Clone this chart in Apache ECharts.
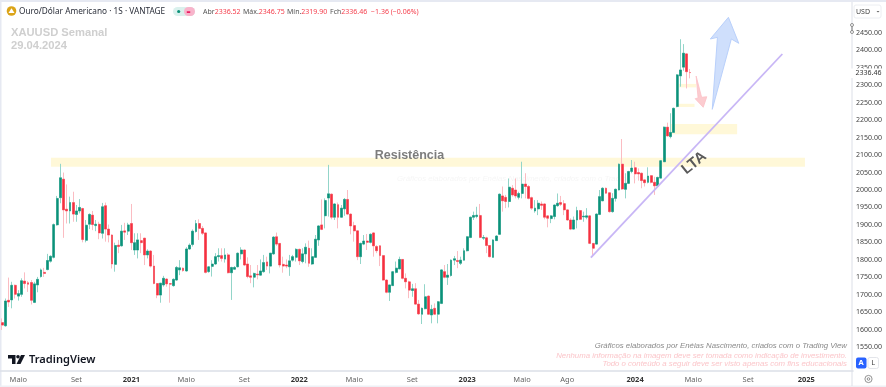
<!DOCTYPE html>
<html><head><meta charset="utf-8">
<style>html,body{margin:0;padding:0;background:#fff}#c{width:886px;height:387px}</style>
<script src="https://cdn.jsdelivr.net/npm/echarts@6/dist/echarts.min.js"></script>
</head><body><div id="c"></div>
<script>
const opens=[
1620,1611,1684,1685,1727,1696,1701,1739,1734,1735,1678,1728,1752,1764,1772,1796,1807,1900,1978,2031,1945,1940,1964,1930,1940,1947,1856,1902,1928,1898,1902,1876,1955,1888,1871,
1787,1842,1840,1883,1882,1904,1828,1828,1855,1862,1814,1825,1782,1732,1699,1728,1745,1732,1726,1742,1771,1776,1768,1831,1844,1881,1904,1890,1877,1766,1781,1788,1809,1812,1802,1814,
1763,1773,1780,1817,1828,1788,1754,1750,1759,1756,1766,1794,1782,1817,1866,1847,1787,1785,1780,1799,1807,1830,1795,1817,1833,1788,1807,1857,1900,1926,1977,1988,1922,1958,1922,
1946,1973,1931,1898,1883,1809,1845,1854,1850,1877,1838,1840,1812,1742,1707,1726,1764,1774,1801,1747,1737,1712,1717,1673,1644,1660,1696,1642,1661,1644,1675,1766,1750,1755,1799,1798,
1790,1799,1826,1864,1922,1924,1927,1862,1863,1841,1807,1855,1873,1983,1979,1967,2005,2000,1979,1990,2017,2010,1978,1940,1946,1960,1960,1926,1918,1924,1955,1964,1961,1943,1914,1888,
1914,1941,1923,1922,1926,1847,1845,1930,1969,2005,1992,1938,1976,2000,2074,2002,2019,2053,2064,2050,2048,2029,2022,2041,2022,2012,2034,2081,2180,2153,2165,2239,2327,2352,2390,2336.52];
const closes=[
1613,1682,1679,1727,1701,1703,1740,1732,1730,1684,1731,1744,1771,1761,1798,1810,1901,1976,2035,1943,1940,1964,1931,1940,1950,1858,1899,1930,1901,1902,1877,1952,1888,1871,1788,
1841,1838,1882,1879,1900,1849,1849,1857,1849,1814,1825,1782,1732,1699,1733,1747,1731,1730,1744,1778,1777,1769,1831,1842,1882,1904,1890,1876,1764,1780,1788,1809,1812,1804,1814,1763,
1778,1778,1819,1828,1785,1752,1750,1761,1757,1768,1792,1782,1819,1865,1845,1785,1782,1782,1797,1809,1830,1797,1817,1836,1790,1809,1859,1897,1887,1970,1989,1922,1960,1922,1948,
1973,1931,1897,1883,1809,1847,1854,1850,1873,1840,1826,1812,1742,1707,1728,1766,1776,1801,1747,1737,1713,1717,1673,1645,1661,1694,1644,1658,1644,1680,1771,1750,1756,1799,1803,1795,
1799,1826,1866,1922,1927,1928,1864,1864,1841,1809,1857,1868,1988,1969,1967,2008,1986,1983,1990,2017,2010,1976,1948,1948,1962,1956,1922,1919,1926,1957,1962,1959,1943,1914,1888,1914,
1941,1916,1925,1926,1847,1833,1931,1981,2005,1991,1938,1976,2002,2074,2003,2019,2053,2063,2046,2046,2027,2021,2040,2022,2012,2036,2084,2180,2155,2165,2234,2330,2344,2392,2339,2336.46];
const lows=[
1599,1608,1665,1661,1689,1683,1694,1718,1708,1672,1676,1707,1749,1751,1770,1792,1804,1898,1962,1863,1904,1904,1909,1909,1933,1850,1850,1888,1885,1882,1859,1861,1852,1850,1775,
1766,1819,1838,1857,1871,1828,1814,1804,1819,1785,1804,1778,1730,1690,1677,1723,1723,1677,1723,1740,1756,1766,1766,1828,1838,1878,1857,1871,1761,1763,1752,1785,1795,1795,1792,1761,
1685,1771,1778,1801,1782,1747,1733,1721,1744,1754,1763,1771,1761,1814,1840,1778,1763,1776,1754,1795,1795,1785,1790,1790,1780,1785,1807,1840,1885,1890,1924,1916,1914,1890,1920,
1926,1928,1873,1852,1799,1788,1842,1828,1847,1809,1819,1782,1740,1704,1682,1725,1761,1773,1744,1718,1690,1694,1671,1642,1616,1658,1642,1618,1642,1618,1673,1747,1728,1752,1785,1776,
1785,1798,1824,1862,1914,1919,1862,1857,1819,1807,1806,1854,1871,1938,1948,1950,1981,1976,1973,1976,1976,1973,1943,1935,1928,1943,1916,1893,1905,1916,1952,1954,1928,1912,1885,1887,
1890,1914,1909,1916,1845,1809,1844,1928,1968,1989,1935,1935,1967,1999,2000,1976,2017,2048,2019,2027,2005,2010,2019,2019,1986,2010,2033,2080,2153,2148,2164,2237,2296,2342,2291,2319.9];
const highs=[
1632,1689,1749,1737,1729,1713,1747,1764,1739,1742,1737,1751,1775,1777,1817,1813,1904,1983,2075,2050,2016,1981,1995,1957,1974,1949,1914,1933,1940,1914,1909,1963,1964,1901,1873,
1849,1857,1900,1906,1906,1960,1876,1876,1876,1863,1830,1828,1814,1733,1733,1754,1747,1733,1747,1782,1799,1778,1836,1847,1887,1914,1916,1897,1878,1782,1799,1819,1833,1833,1833,1819,
1780,1782,1821,1836,1830,1807,1785,1763,1785,1801,1814,1809,1819,1868,1878,1847,1809,1801,1814,1814,1833,1832,1833,1847,1855,1833,1871,1899,1973,1976,2072,1990,1962,1964,1957,
1977,2000,1933,1909,1885,1849,1871,1874,1876,1879,1842,1842,1814,1744,1728,1768,1795,1809,1802,1761,1740,1731,1733,1685,1663,1730,1698,1671,1675,1682,1773,1785,1788,1801,1811,1825,
1809,1833,1868,1924,1938,1952,1960,1871,1866,1842,1859,1871,1990,2010,1986,2033,2014,2033,1995,2081,2048,2014,1981,1971,1971,1967,1962,1928,1928,1959,1990,1983,1971,1945,1919,1924,
1952,1943,1938,1948,1928,1847,1933,2000,2008,2007,1993,1991,2004,2076,2146,2048,2055,2086,2081,2062,2050,2031,2065,2043,2038,2038,2086,2182,2193,2220,2236,2332,2432,2418,2392,2346.75];

const tickWeeks=['2020-05-04','2020-09-07','2021-01-04','2021-05-03','2021-09-06','2022-01-03','2022-05-02','2022-09-05','2023-01-02','2023-05-01','2023-08-07','2024-01-01','2024-05-06','2024-09-02','2025-01-06'];
const tickTexts=['Maio','Set','2021','Maio','Set','2022','Maio','Set','2023','Maio','Ago','2024','Maio','Set','2025'];

// Weekly categories from the first candle to the empty space at the right of the chart
const weeks=[];
for(let i=0;i<264;i++){weeks.push(new Date(Date.UTC(2020,2,30)+i*7*864e5).toISOString().slice(0,10));}

// Annotations in chart coordinates: [week index, price]
const zones=[
  [15.1,248.6,2092.5,2066.8],
  [206.8,227.6,2189,2160],
  [209.6,214.9,2304,2294],
  [209,214.4,2247,2238]];
const trendLine=[[182.3,1806],[241.6,2389.7]];
const blueArrow=[[224.9,2494.8],[228.1,2420.3],[225.8,2432.7],[219.9,2231.2],[221.5,2437.5],[219.3,2432.7]];
const redArrow=[[214.9,2326.6],[216.6,2265.6],[218.2,2267.3],[217.1,2237],[214.6,2261.6],[215.5,2263.6]];

const UP='#0b9179',DOWN='#f5303f',UPW='#93d5c9',DOWNW='#fbbcc2';
const FONT='"Noto Sans",sans-serif';
const CREDIT='italic 7.8px "Liberation Sans",sans-serif';
const wickData=opens.map((o,i)=>[o,closes[i],lows[i],highs[i]]);
const bodyData=opens.map((o,i)=>[o,closes[i],Math.min(o,closes[i]),Math.max(o,closes[i])]);

function poly(points,api,style){
  return {type:'polygon',shape:{points:points.map(p=>api.coord(p))},style};
}
function ohlc(x,text){
  return {type:'text',z:10,style:{x,y:11.5,verticalAlign:'middle',text,
    rich:{g:{font:'7px '+FONT,fill:'#555'},r:{font:'7px '+FONT,fill:'#f5404e'}}}};
}
const chart=echarts.init(document.getElementById('c'),null,{renderer:'canvas'});
chart.setOption({
  animation:false,
  backgroundColor:'#fff',
  grid:{left:0.6,width:852.46,top:15.5,height:349},
  xAxis:[{
    type:'category',data:weeks,boundaryGap:true,offset:6.5,
    axisLine:{show:true,lineStyle:{color:'#dcdfe7',width:1.5}},axisTick:{show:false},
    axisLabel:{
      interval:(i,v)=>tickWeeks.includes(v),margin:5,hideOverlap:false,
      formatter:v=>{const k=tickWeeks.indexOf(v);if(k<0)return '';const t=tickTexts[k];return /^\d/.test(t)?'{y|'+t+'}':'{m|'+t+'}';},
      rich:{y:{fontFamily:FONT,fontSize:7.5,fontWeight:'bold',color:'#333'},m:{fontFamily:FONT,fontSize:7.5,color:'#666'}}
    },
    splitLine:{show:false}
  },{type:'value',show:false,min:-0.5,max:263.5,splitLine:{show:false}}],
  yAxis:{
    type:'value',position:'right',min:1500,max:2500,interval:50,
    axisLine:{show:false},axisTick:{show:false},splitLine:{show:false},
    axisLabel:{margin:3,fontFamily:FONT,fontSize:7,color:'#444',
      formatter:v=>(v<=1500||v>=2500)?'':v.toFixed(2)}
  },
  series:[
    {type:'custom',xAxisIndex:1,z:1,silent:true,clip:false,data:zones,
      encode:{x:[0,1],y:[2,3]},
      renderItem:(p,api)=>{
        const a=api.coord([api.value(0),api.value(2)]),b=api.coord([api.value(1),api.value(3)]);
        return {type:'rect',shape:{x:a[0],y:a[1],width:b[0]-a[0],height:b[1]-a[1]},style:{fill:'#fff8d8'}};
      }},
    {type:'candlestick',name:'XAUUSD',z:2,barWidth:2.2,data:wickData,
      itemStyle:{color:UPW,color0:DOWNW,borderColor:UPW,borderColor0:DOWNW,borderWidth:1}},
    {type:'candlestick',name:'Corpo',z:3,barWidth:2.4,data:bodyData,
      itemStyle:{color:UP,color0:DOWN,borderColor:UP,borderColor0:DOWN,borderWidth:0.4}},
    {type:'custom',xAxisIndex:1,z:4,silent:true,clip:false,data:[0],
      renderItem:(p,api)=>({type:'group',children:[
        {type:'line',shape:{x1:api.coord(trendLine[0])[0],y1:api.coord(trendLine[0])[1],x2:api.coord(trendLine[1])[0],y2:api.coord(trendLine[1])[1]},style:{stroke:'#c8b6f6',lineWidth:1.8}},
        poly(blueArrow,api,{fill:'#cfdffc',stroke:'#b9d0fb',lineWidth:1}),
        poly(redArrow,api,{fill:'#fcccd0',stroke:'#fbc0c6',lineWidth:0.8})
      ]})}
  ],
  graphic:{elements:[
    {type:'rect',z:0,shape:{x:0,y:0,width:886,height:2},style:{fill:'#e6e9f2'}},
    {type:'rect',z:0,shape:{x:0,y:0,width:1.5,height:387},style:{fill:'#e6e9f2'}},
    {type:'rect',z:0,shape:{x:0,y:385.5,width:886,height:1.5},style:{fill:'#eef0f5'}},
    {type:'line',z:5,shape:{x1:852,y1:2,x2:852,y2:386},style:{stroke:'#dcdfe7',lineWidth:1}},
    // legend
    {type:'circle',z:10,shape:{cx:11.5,cy:11,r:4.8},style:{fill:'#dba418'}},
    {type:'polygon',z:11,shape:{points:[[8.5,13],[11.5,8.3],[14.5,13]]},style:{fill:'#fff'}},
    {type:'text',z:10,style:{x:19,y:11.5,text:'Ouro/Dólar Americano · 1S · VANTAGE',font:'8.25px '+FONT,fill:'#2a2e39',verticalAlign:'middle'}},
    {type:'rect',z:10,shape:{x:173,y:7,width:22,height:9,r:4.5},style:{fill:'#daf1ed'}},
    {type:'rect',z:11,shape:{x:184,y:7,width:11,height:9,r:4.5},style:{fill:'#f8b4cb'}},
    {type:'circle',z:12,shape:{cx:178.7,cy:11.5,r:1.6},style:{fill:'#0b9179'}},
    {type:'text',z:12,style:{x:188.5,y:11.5,text:'=',font:'bold 7px '+FONT,fill:'#e91e63',align:'center',verticalAlign:'middle'}},
    ohlc(203,'{g|Abr}{r|2336.52}'),
    ohlc(243,'{g|Máx.}{r|2346.75}'),
    ohlc(287,'{g|Mín.}{r|2319.90}'),
    ohlc(330,'{g|Fch}{r|2336.46}'),
    ohlc(371,'{r|−1.36 (−0.06%)}'),
    {type:'text',z:1,style:{x:11,y:32.5,text:'XAUUSD Semanal',font:'bold 11.2px "Liberation Sans",sans-serif',fill:'#cfcfcf',verticalAlign:'middle'}},
    {type:'text',z:1,style:{x:11,y:45.5,text:'29.04.2024',font:'bold 11.2px "Liberation Sans",sans-serif',fill:'#cfcfcf',verticalAlign:'middle'}},
    // drawing labels
    {type:'text',z:6,style:{x:409.5,y:156,text:'Resistência',font:'bold 12.5px "Liberation Sans",sans-serif',fill:'#7d7d7d',align:'center',verticalAlign:'middle'}},
    {type:'text',z:6,x:694,y:163,rotation:0.68,style:{x:0,y:0,text:'LTA',font:'bold 15px "Liberation Sans",sans-serif',fill:'#5a5a5a',align:'center',verticalAlign:'middle'}},
    {type:'text',z:1,style:{x:397,y:179,text:'Gráficos elaborados por Enéias Nascimento, criados com o Trading View',font:CREDIT,fill:'#f6f6f6',verticalAlign:'middle'}},
    // credits
    {type:'text',z:6,style:{x:847,y:345.5,text:'Gráficos elaborados por Enéias Nascimento, criados com o Trading View',font:CREDIT,fill:'#8a8a8a',align:'right',verticalAlign:'middle'}},
    {type:'text',z:6,style:{x:847,y:356,text:'Nenhuma informação na imagem deve ser tomada como indicação de investimento.',font:CREDIT,fill:'#fbc6ca',align:'right',verticalAlign:'middle'}},
    {type:'text',z:6,style:{x:847,y:364,text:'Todo o conteúdo a seguir deve ser visto apenas com fins educacionais',font:CREDIT,fill:'#fbc6ca',align:'right',verticalAlign:'middle'}},
    // logo
    {type:'polygon',z:6,shape:{points:[[8,355],[15.5,355],[15.5,364],[12,364],[12,358.5],[8,358.5]]},style:{fill:'#131722'}},
    {type:'circle',z:6,shape:{cx:18,cy:356.8,r:1.8},style:{fill:'#131722'}},
    {type:'polygon',z:6,shape:{points:[[21,355],[25,355],[20.5,364],[16.5,364]]},style:{fill:'#131722'}},
    {type:'text',z:6,style:{x:29,y:359.5,text:'TradingView',font:'600 11.1px "Noto Sans",sans-serif',fill:'#131722',verticalAlign:'middle'}},
    // price scale furniture
    {type:'rect',z:7,shape:{x:854,y:5,width:27,height:13,r:2},style:{fill:'#fff',stroke:'#eceef2',lineWidth:1}},
    {type:'text',z:8,style:{x:856,y:11.5,text:'USD',font:'7px '+FONT,fill:'#444',verticalAlign:'middle'}},
    {type:'polygon',z:8,shape:{points:[[876.5,11],[879.5,11],[878,12.6]]},style:{fill:'#666'}},
    {type:'line',z:8,shape:{x1:852,y1:24,x2:852,y2:33},style:{stroke:'#777',lineWidth:1}},
    {type:'circle',z:8,shape:{cx:852,cy:25,r:1.5},style:{fill:'#fff',stroke:'#777',lineWidth:0.8}},
    {type:'circle',z:8,shape:{cx:852,cy:32,r:1.5},style:{fill:'#fff',stroke:'#777',lineWidth:0.8}},
    {type:'rect',z:7,shape:{x:851,y:68.5,width:35,height:9.5},style:{fill:'#fff'}},
    {type:'text',z:8,style:{x:855.5,y:73.3,text:'2336.46',font:'7px '+FONT,fill:'#333',verticalAlign:'middle'}},
    {type:'rect',z:8,shape:{x:856,y:357.5,width:10.5,height:11,r:2},style:{fill:'#2962ff'}},
    {type:'text',z:9,style:{x:861.2,y:363,text:'A',font:'bold 7.5px '+FONT,fill:'#fff',align:'center',verticalAlign:'middle'}},
    {type:'rect',z:8,shape:{x:868,y:357.5,width:10.5,height:11,r:2},style:{fill:'#fff',stroke:'#e3e5ea',lineWidth:1}},
    {type:'text',z:9,style:{x:873.2,y:363,text:'L',font:'7.5px '+FONT,fill:'#444',align:'center',verticalAlign:'middle'}},
    {type:'circle',z:8,shape:{cx:868.5,cy:379,r:3.6},style:{fill:'#fff',stroke:'#777',lineWidth:0.8}},
    {type:'circle',z:8,shape:{cx:868.5,cy:379,r:1.3},style:{fill:'#fff',stroke:'#777',lineWidth:0.8}}
  ]}
});
</script></body></html>
